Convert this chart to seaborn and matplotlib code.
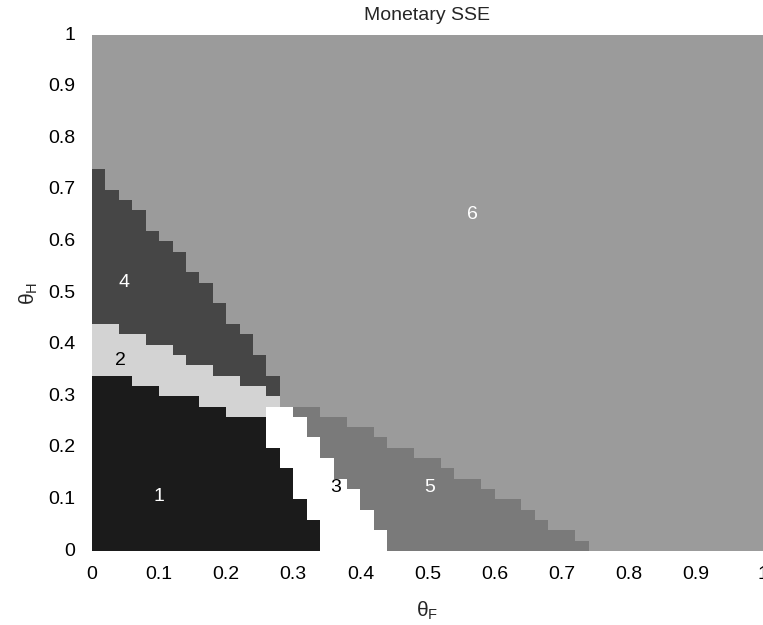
import numpy as np
import matplotlib
matplotlib.use("Agg")
import matplotlib.pyplot as plt
from matplotlib.colors import ListedColormap
import seaborn as sns

sns.set_theme(style="white")
plt.rcParams['font.family'] = ['Liberation Sans', 'DejaVu Sans']
plt.rcParams['mathtext.default'] = 'regular'

# grid step of theta_F / theta_H
step = 0.02
ncol = 50

# upper edge (theta_H) of each region, per theta_F column, stacked 1 < 3 < 2 < 5 < 4 < 6
top_r1 = [0.34, 0.34, 0.34, 0.32, 0.32, 0.30, 0.30, 0.30, 0.28, 0.28,
          0.26, 0.26, 0.26, 0.20, 0.16, 0.10, 0.06, 0, 0, 0,
          0, 0, 0, 0, 0, 0, 0, 0, 0, 0,
          0, 0, 0, 0, 0, 0, 0, 0, 0, 0,
          0, 0, 0, 0, 0, 0, 0, 0, 0, 0]
top_r3 = [0.34, 0.34, 0.34, 0.32, 0.32, 0.30, 0.30, 0.30, 0.28, 0.28,
          0.26, 0.26, 0.26, 0.28, 0.28, 0.26, 0.22, 0.18, 0.14, 0.12,
          0.08, 0.04, 0, 0, 0, 0, 0, 0, 0, 0,
          0, 0, 0, 0, 0, 0, 0, 0, 0, 0,
          0, 0, 0, 0, 0, 0, 0, 0, 0, 0]
top_r2 = [0.44, 0.44, 0.42, 0.42, 0.40, 0.40, 0.38, 0.36, 0.36, 0.34,
          0.34, 0.32, 0.32, 0.30, 0.28, 0.26, 0.22, 0.18, 0.14, 0.12,
          0.08, 0.04, 0, 0, 0, 0, 0, 0, 0, 0,
          0, 0, 0, 0, 0, 0, 0, 0, 0, 0,
          0, 0, 0, 0, 0, 0, 0, 0, 0, 0]
top_r5 = [0.44, 0.44, 0.42, 0.42, 0.40, 0.40, 0.38, 0.36, 0.36, 0.34,
          0.34, 0.32, 0.32, 0.30, 0.28, 0.28, 0.28, 0.26, 0.26, 0.24,
          0.24, 0.22, 0.20, 0.20, 0.18, 0.18, 0.16, 0.14, 0.14, 0.12,
          0.10, 0.10, 0.08, 0.06, 0.04, 0.04, 0.02, 0, 0, 0,
          0, 0, 0, 0, 0, 0, 0, 0, 0, 0]
top_r4 = [0.74, 0.70, 0.68, 0.66, 0.62, 0.60, 0.58, 0.54, 0.52, 0.48,
          0.44, 0.42, 0.38, 0.34, 0.28, 0.28, 0.28, 0.26, 0.26, 0.24,
          0.24, 0.22, 0.20, 0.20, 0.18, 0.18, 0.16, 0.14, 0.14, 0.12,
          0.10, 0.10, 0.08, 0.06, 0.04, 0.04, 0.02, 0, 0, 0,
          0, 0, 0, 0, 0, 0, 0, 0, 0, 0]

region_colors = ['#1b1b1b', '#d3d3d3', '#ffffff', '#464646', '#7a7a7a', '#9b9b9b']

region_names = ['1', '2', '3', '4', '5', '6']
label_x = [0.10, 0.043, 0.363, 0.048, 0.503, 0.567]
label_y = [0.105, 0.37, 0.124, 0.52, 0.124, 0.652]
label_colors = ['white', 'black', 'black', 'white', 'white', 'white']

tick_labels = ['0', '0.1', '0.2', '0.3', '0.4', '0.5', '0.6', '0.7', '0.8', '0.9', '1']

# region code per cell
rows = np.arange(ncol) * step + step / 2
grid = np.full((ncol, ncol), 6)
for c in range(ncol):
    for r, yc in enumerate(rows):
        if yc < top_r1[c]:
            grid[r, c] = 1
        elif yc < top_r3[c]:
            grid[r, c] = 3
        elif yc < top_r2[c]:
            grid[r, c] = 2
        elif yc < top_r5[c]:
            grid[r, c] = 5
        elif yc < top_r4[c]:
            grid[r, c] = 4

fig = plt.figure(figsize=(7.63, 6.25), dpi=100)
ax = fig.add_axes([92 / 763, 1 - 551 / 625, 671 / 763, 516 / 625])

sns.heatmap(grid, cmap=ListedColormap(region_colors), vmin=0.5, vmax=6.5,
            cbar=False, ax=ax, linewidths=0)
ax.set_ylim(0, ncol)
ax.set_xlim(0, ncol)

pos = np.arange(0, ncol + 1, 5)
ax.set_xticks(pos)
ax.set_xticklabels(tick_labels, rotation=0, fontsize=14)
ax.set_yticks(pos)
ax.set_yticklabels(tick_labels, rotation=0, fontsize=14)
ax.tick_params(axis='both', length=0, colors='black')
ax.tick_params(axis='x', pad=11)
ax.tick_params(axis='y', pad=12)

for name, lx, ly, lc in zip(region_names, label_x, label_y, label_colors):
    ax.text(lx / step, ly / step, name, color=lc, fontsize=14,
            ha='center', va='center')

ax.set_title('Monetary SSE', fontsize=14, pad=11)
ax.set_xlabel(r'$\theta_F$', fontsize=15, labelpad=12)
ax.set_ylabel(r'$\theta_H$', fontsize=15, labelpad=6)

fig.savefig('out.png', dpi=100)
